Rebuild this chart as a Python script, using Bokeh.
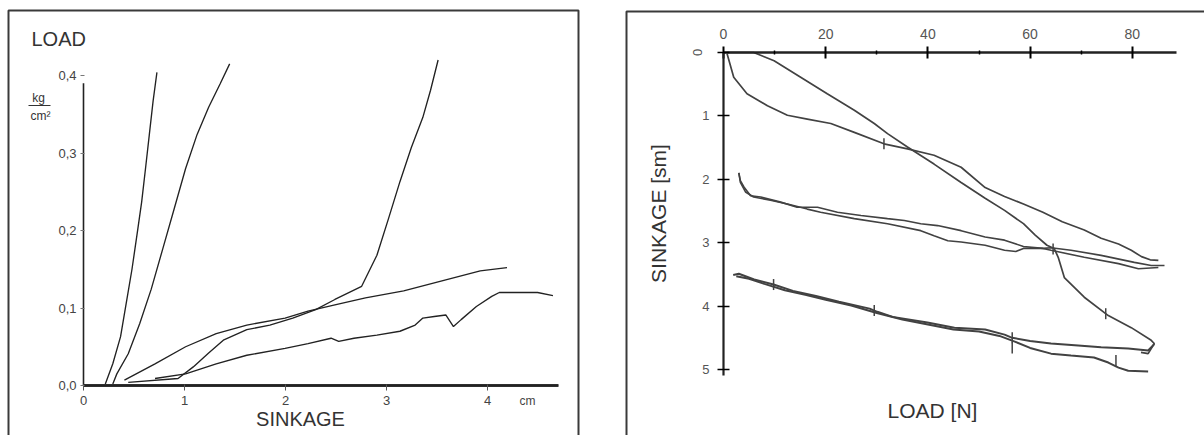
import math
from bokeh.plotting import figure
from bokeh.models import LinearAxis, Range1d, BoxAnnotation, FixedTicker
from bokeh.layouts import row
from bokeh.core.properties import value
from bokeh.embed import file_html
from bokeh.resources import INLINE

FONT = "Liberation Sans"

# ---------------- left chart: LOAD (kg/cm2) vs SINKAGE (cm) ----------------
left_x_ticks = [0, 1, 2, 3, 4]
left_x_labels = ["0", "1", "2", "3", "4"]
left_y_ticks = [0.0, 0.1, 0.2, 0.3, 0.4]
left_y_labels = ["0,0", "0,1", "0,2", "0,3", "0,4"]
left_x_axis_end = 4.7
left_y_axis_end = 0.39

c1_x = [0.216, 0.29, 0.367, 0.424, 0.48, 0.538, 0.576, 0.614, 0.652, 0.689, 0.727]
c1_y = [0.002, 0.028, 0.063, 0.107, 0.15, 0.202, 0.237, 0.280, 0.324, 0.367, 0.404]

c2_x = [0.29, 0.33, 0.443, 0.557, 0.670, 0.784, 0.898, 1.011, 1.125, 1.239, 1.352, 1.447]
c2_y = [0.002, 0.015, 0.041, 0.080, 0.124, 0.176, 0.228, 0.280, 0.324, 0.359, 0.389, 0.415]

c3_x = [0.443, 0.936, 1.087, 1.239, 1.390, 1.617, 1.845, 2.072, 2.299, 2.489, 2.754,
        2.905, 3.019, 3.133, 3.246, 3.360, 3.436, 3.511]
c3_y = [0.004, 0.009, 0.024, 0.042, 0.059, 0.072, 0.078, 0.087, 0.098, 0.111, 0.128,
        0.168, 0.215, 0.263, 0.307, 0.346, 0.381, 0.420]

c4_x = [0.405, 0.708, 1.011, 1.314, 1.617, 1.996, 2.223, 2.489, 2.792, 3.170, 3.549, 3.928, 4.193]
c4_y = [0.007, 0.028, 0.050, 0.067, 0.078, 0.087, 0.096, 0.104, 0.113, 0.122, 0.135, 0.148, 0.152]

c5_x = [0.708, 1.011, 1.314, 1.617, 1.996, 2.223, 2.451, 2.527, 2.678, 2.905, 3.133, 3.284,
        3.360, 3.473, 3.587, 3.663, 3.739, 3.890, 4.042, 4.117, 4.269, 4.496, 4.648]
c5_y = [0.009, 0.015, 0.028, 0.039, 0.048, 0.054, 0.061, 0.057, 0.061, 0.065, 0.070, 0.078,
        0.087, 0.089, 0.091, 0.076, 0.085, 0.102, 0.115, 0.120, 0.120, 0.120, 0.116]

# ---------------- right chart: SINKAGE (sm) vs LOAD (N) ----------------
right_x_ticks = [0, 20, 40, 60, 80]
right_x_minor = [10, 30, 50, 70]
right_y_ticks = [0, 1, 2, 3, 4, 5]
right_y_labels = ["", "1", "2", "3", "4", "5"]
right_x_axis_end = 88.7
right_y_axis_end = 5.1

r1_load = [0.7, 5.9, 9.9, 15.1, 20.3, 25.6, 29.5, 32.1, 36.0, 41.2, 46.5, 51.2, 55.0, 58.7,
           61.0, 63.3, 64.7, 65.5, 66.7, 70.6, 75.3, 79.8, 83.7, 84.3, 83.1, 81.7]
r1_sink = [0.0, 0.0, 0.13, 0.39, 0.65, 0.91, 1.12, 1.28, 1.49, 1.76, 2.05, 2.30, 2.49, 2.70,
           2.88, 3.04, 3.09, 3.23, 3.55, 3.86, 4.15, 4.34, 4.54, 4.59, 4.75, 4.73]

r2_load = [0.7, 2.0, 4.6, 8.6, 12.5, 16.4, 21.0, 25.6, 31.4, 36.0, 41.2, 46.5, 51.2, 55.0,
           58.7, 62.5, 66.3, 70.6, 73.9, 77.3, 79.8, 81.8, 83.5, 85.1]
r2_sink = [0.02, 0.39, 0.65, 0.84, 0.99, 1.05, 1.12, 1.26, 1.44, 1.52, 1.62, 1.81, 2.13, 2.27,
           2.39, 2.52, 2.67, 2.80, 2.93, 3.02, 3.12, 3.22, 3.27, 3.28]

b1_load = [3.0, 3.3, 4.0, 5.3, 7.3, 11.2, 14.4, 18.4, 22.3, 26.9, 32.1, 35.4, 38.6, 41.9,
           46.5, 51.2, 55.0, 58.7, 62.5, 64.1, 68.0, 73.9, 80.4, 83.7, 86.3]
b1_sink = [1.90, 2.02, 2.12, 2.26, 2.28, 2.36, 2.44, 2.44, 2.52, 2.57, 2.62, 2.65, 2.70, 2.73,
           2.81, 2.91, 2.96, 3.06, 3.09, 3.08, 3.12, 3.20, 3.31, 3.36, 3.36]

b2_load = [3.0, 3.3, 4.3, 5.9, 9.2, 12.5, 16.4, 19.0, 25.6, 32.1, 38.6, 41.2, 43.9, 46.5,
           51.2, 55.0, 57.2, 58.7, 62.5, 64.1, 70.6, 77.3, 81.2, 85.1]
b2_sink = [1.90, 2.05, 2.20, 2.28, 2.33, 2.39, 2.47, 2.52, 2.62, 2.70, 2.81, 2.89, 2.97, 2.99,
           3.04, 3.12, 3.14, 3.09, 3.09, 3.12, 3.23, 3.33, 3.41, 3.39]

d1_load = [1.9, 3.0, 6.0, 9.8, 13.6, 18.1, 22.6, 28.6, 30.1, 33.1, 39.9, 45.2, 51.2, 55.0,
           56.5, 60.0, 64.1, 69.4, 73.9, 79.2, 83.1, 84.3]
d1_sink = [3.51, 3.49, 3.58, 3.66, 3.76, 3.84, 3.93, 4.04, 4.09, 4.17, 4.26, 4.34, 4.37, 4.45,
           4.50, 4.55, 4.59, 4.62, 4.65, 4.67, 4.70, 4.60]

d2_load = [2.5, 5.0, 8.0, 12.0, 16.0, 20.0, 25.0, 30.0, 35.0, 40.0, 45.0, 50.0, 54.0, 57.0,
           60.0, 64.1, 68.0, 72.5, 75.3, 77.3, 79.2, 83.1]
d2_sink = [3.53, 3.57, 3.65, 3.75, 3.82, 3.90, 3.99, 4.11, 4.21, 4.29, 4.37, 4.40, 4.47, 4.56,
           4.66, 4.75, 4.78, 4.81, 4.89, 4.97, 5.02, 5.03]

mark_load = [31.4, 64.5, 74.8, 9.8, 29.5, 56.5, 56.5, 76.8]
mark_sink = [1.44, 3.10, 4.12, 3.66, 4.07, 4.50, 4.66, 4.86]

# ---------------- geometry (page has no margin in Bokeh's template) ----------------
H = 435
W1, GAP = 590, 22
W2 = 1204 - W1 - GAP
LINE = "#222222"
BORDER = "#3a3a3a"
TXT = "#333333"

# left: x=0 at px 83, 101 px/cm ; y=0 at px 385, 775 px per unit
lx0, lsx = 83.0, 101.0
ly0, lsy = 385.0, 775.0


def px_l(cx):
    return (cx - lx0) / lsx


def py_l(cy):
    return (ly0 - cy) / lsy


p1 = figure(width=W1, height=H, output_backend="svg", toolbar_location=None,
            x_range=Range1d(px_l(0), px_l(W1)), y_range=Range1d(py_l(H), py_l(0)),
            x_axis_location=None, y_axis_location=None, min_border=0)
p1.grid.visible = False
p1.outline_line_color = None
p1.background_fill_color = "white"

# panel frame (its bottom edge lies below the visible area)
p1.add_layout(BoxAnnotation(left=px_l(8), right=px_l(578), top=py_l(10), bottom=py_l(470),
                            fill_color=None, fill_alpha=0, line_color=BORDER, line_width=2, line_alpha=1))

# axis lines
p1.segment(x0=[0, 0], y0=[0, 0], x1=[left_x_axis_end, 0], y1=[0, left_y_axis_end],
           line_color=LINE, line_width=[2.6, 1.6])

for xs, ys in [(c1_x, c1_y), (c2_x, c2_y), (c3_x, c3_y), (c4_x, c4_y), (c5_x, c5_y)]:
    p1.line(xs, ys, line_color=LINE, line_width=1.35)

ax = LinearAxis(fixed_location=0, ticker=FixedTicker(ticks=left_x_ticks), bounds=(0, left_x_axis_end),
                major_label_overrides={t: l for t, l in zip(left_x_ticks, left_x_labels)})
ax.axis_line_width = 2.6
ax.axis_line_color = LINE
ax.major_tick_out = 5
ax.major_tick_in = 1
ax.major_tick_line_color = "#555555"
ax.minor_tick_line_color = None
ax.major_label_standoff = 5
ax.major_label_text_font = FONT
ax.major_label_text_font_size = "13px"
ax.major_label_text_color = "#444444"
p1.add_layout(ax, "below")

ay = LinearAxis(fixed_location=0, ticker=FixedTicker(ticks=left_y_ticks), bounds=(0, 0.4),
                major_label_overrides={t: l for t, l in zip(left_y_ticks, left_y_labels)})
ay.axis_line_color = None
ay.major_tick_out = 3
ay.major_tick_in = 1
ay.major_tick_line_color = "#777777"
ay.minor_tick_line_color = None
ay.major_label_standoff = 4
ay.major_label_text_font = FONT
ay.major_label_text_font_size = "13px"
ay.major_label_text_color = "#444444"
p1.add_layout(ay, "left")

p1.text(x=[px_l(31)], y=[py_l(38)], text=["LOAD"], text_font=value(FONT), text_font_size="20px",
        text_align="left", text_baseline="middle", text_color=TXT)
p1.text(x=[px_l(38)], y=[py_l(97)], text=["kg"], text_font=value(FONT), text_font_size="12px",
        text_align="center", text_baseline="middle", text_color=TXT)
p1.segment(x0=[px_l(28)], y0=[py_l(105)], x1=[px_l(50)], y1=[py_l(105)], line_color=TXT, line_width=1.2)
p1.text(x=[px_l(40)], y=[py_l(115)], text=["cm²"], text_font=value(FONT), text_font_size="12px",
        text_align="center", text_baseline="middle", text_color=TXT)
p1.text(x=[px_l(300)], y=[py_l(418)], text=["SINKAGE"], text_font=value(FONT), text_font_size="20px",
        text_align="center", text_baseline="middle", text_color=TXT)
p1.text(x=[px_l(527)], y=[py_l(400)], text=["cm"], text_font=value(FONT), text_font_size="12px",
        text_align="center", text_baseline="middle", text_color="#444444")

# right: load 0 at page px 723, 5.11 px/N ; sinkage 0 at px 52, 63.4 px/sm (downwards)
rx_page0 = W1 + GAP
rx0, rsx = 723.0 - rx_page0, 5.11
ry0, rsy = 52.0, 63.4


def px_r(cx):
    return (cx - rx_page0 - rx0) / rsx


def py_r(cy):
    return (cy - ry0) / rsy


p2 = figure(width=W2, height=H, output_backend="svg", toolbar_location=None,
            x_range=Range1d(px_r(rx_page0), px_r(1204)), y_range=Range1d(py_r(H), py_r(0)),
            x_axis_location=None, y_axis_location=None, min_border=0)
p2.grid.visible = False
p2.outline_line_color = None
p2.background_fill_color = "white"

p2.add_layout(BoxAnnotation(left=px_r(626), right=px_r(1230), top=py_r(11), bottom=py_r(470),
                            fill_color=None, fill_alpha=0, line_color=BORDER, line_width=2, line_alpha=1))

RC = "#424242"
for xs, ys, w in [(r1_load, r1_sink, 1.7), (r2_load, r2_sink, 1.7), (b1_load, b1_sink, 1.6),
                  (b2_load, b2_sink, 1.6), (d1_load, d1_sink, 2.0), (d2_load, d2_sink, 2.0)]:
    p2.line(xs, ys, line_color=RC, line_width=w)
p2.scatter(mark_load, mark_sink, marker="dash", angle=math.pi / 2, size=11, line_color=RC, line_width=1.5)

bx = LinearAxis(fixed_location=0, ticker=FixedTicker(ticks=right_x_ticks, minor_ticks=right_x_minor),
                bounds=(0, right_x_axis_end))
bx.axis_line_width = 2.5
bx.axis_line_color = LINE
bx.major_tick_in = 6
bx.major_tick_out = 6
bx.major_tick_line_width = 2
bx.minor_tick_in = 2
bx.minor_tick_out = 2
bx.minor_tick_line_width = 1.5
bx.major_label_standoff = 8
bx.major_label_text_font = FONT
bx.major_label_text_font_size = "14px"
bx.major_label_text_color = "#555555"
p2.add_layout(bx, "above")

by = LinearAxis(fixed_location=0, ticker=FixedTicker(ticks=right_y_ticks), bounds=(0, right_y_axis_end),
                major_label_overrides={t: l for t, l in zip(right_y_ticks, right_y_labels)})
by.axis_line_width = 2.2
by.axis_line_color = LINE
by.major_tick_in = 6
by.major_tick_out = 6
by.major_tick_line_width = 1.5
by.minor_tick_line_color = None
by.major_label_standoff = 8
by.major_label_text_font = FONT
by.major_label_text_font_size = "13px"
by.major_label_text_color = "#555555"
p2.add_layout(by, "left")

p2.text(x=[px_r(697)], y=[py_r(52)], text=["0"], angle=math.pi / 2, text_font=value(FONT),
        text_font_size="13px", text_align="center", text_baseline="middle", text_color="#555555")
p2.text(x=[px_r(658)], y=[py_r(213)], text=["SINKAGE [sm]"], angle=math.pi / 2, text_font=value(FONT),
        text_font_size="21px", text_align="center", text_baseline="middle", text_color=TXT)
p2.text(x=[px_r(932)], y=[py_r(410)], text=["LOAD [N]"], text_font=value(FONT),
        text_font_size="21px", text_align="center", text_baseline="middle", text_color=TXT)

layout = row(p1, p2, spacing=GAP)
open("out.html", "w").write(file_html(layout, INLINE))
